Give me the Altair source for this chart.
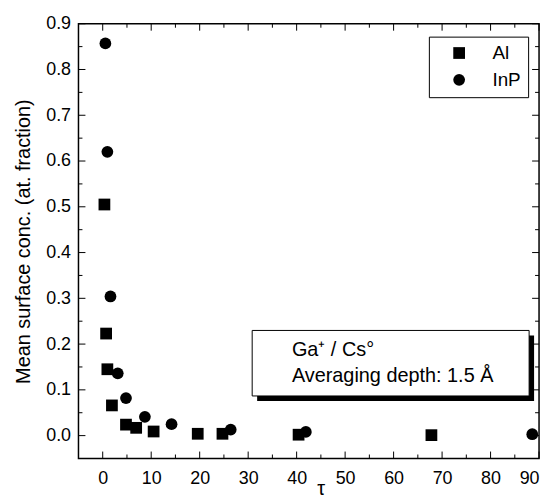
import altair as alt
import pandas as pd

# ---- data ----
al_tau = [0.35, 0.7, 0.96, 1.9, 4.8, 6.9, 10.5, 19.6, 24.7, 40.4, 67.8]
al_conc = [0.505, 0.223, 0.145, 0.066, 0.024, 0.017, 0.009, 0.004, 0.004, 0.002, 0.001]
inp_tau = [0.55, 0.96, 1.6, 3.1, 4.8, 8.7, 14.2, 26.4, 41.9, 88.6]
inp_conc = [0.857, 0.620, 0.304, 0.136, 0.082, 0.041, 0.025, 0.013, 0.008, 0.003]

x_major = [0, 10, 20, 30, 40, 50, 60, 70, 80, 90]
x_minor = [5, 15, 25, 35, 45, 55, 65, 75, 85]
y_major = [0.0, 0.1, 0.2, 0.3, 0.4, 0.5, 0.6, 0.7, 0.8, 0.9]
y_minor = [0.05, 0.15, 0.25, 0.35, 0.45, 0.55, 0.65, 0.75, 0.85]

annot_lines = ["Ga⁺ / Cs°", "Averaging depth: 1.5 Å"]

FONT = "Liberation Sans"
W, H = 464, 438
X_DOM = [-5, 90]
Y_DOM = [-0.05, 0.9]
X_TITLE = "τ"
Y_TITLE = "Mean surface conc. (at. fraction)"

df = pd.DataFrame(
    {"tau": al_tau + inp_tau,
     "conc": al_conc + inp_conc,
     "series": ["Al"] * len(al_tau) + ["InP"] * len(inp_tau)}
)

xs = alt.Scale(domain=X_DOM, nice=False, zero=False)
ys = alt.Scale(domain=Y_DOM, nice=False, zero=False)

x_axis = alt.Axis(values=x_major, tickSize=0, domain=False, grid=False,
                  labelPadding=11, titlePadding=-9, labelFontSize=18, titleFontSize=20,
                  labelFont=FONT, titleFont=FONT, titleFontWeight="normal",
                  labelColor="black", titleColor="black", titleX=244)
y_axis = alt.Axis(values=y_major, format=".1f", tickSize=0, domain=False, grid=False,
                  labelPadding=8, titlePadding=12, labelFontSize=18, titleFontSize=20,
                  labelFont=FONT, titleFont=FONT, titleFontWeight="normal",
                  labelColor="black", titleColor="black")

points = alt.Chart(df).mark_point(filled=True, opacity=1, color="black", size=140).encode(
    x=alt.X("tau:Q", scale=xs, title=X_TITLE, axis=x_axis),
    y=alt.Y("conc:Q", scale=ys, title=Y_TITLE, axis=y_axis),
    shape=alt.Shape("series:N",
                    scale=alt.Scale(domain=["Al", "InP"], range=["square", "circle"]),
                    legend=alt.Legend(title=None, orient="none", legendX=353, legendY=13,
                                      strokeColor="black", padding=7, fillColor="white",
                                      labelFontSize=19, labelFont=FONT, labelColor="black",
                                      labelExpr="datum.label + '\u2002'",
                                      symbolSize=140, symbolFillColor="black",
                                      symbolStrokeColor="black",
                                      rowPadding=7, labelOffset=24, symbolOffset=14)),
)


def tick_layer(vals, axis, pos0, pos1):
    d = pd.DataFrame({"v": vals})
    if axis == "x":
        return alt.Chart(d).mark_rule(color="black", strokeWidth=1).encode(
            x=alt.X("v:Q", scale=xs, title=X_TITLE, axis=x_axis),
            y=alt.value(pos0), y2=alt.value(pos1))
    return alt.Chart(d).mark_rule(color="black", strokeWidth=1).encode(
        y=alt.Y("v:Q", scale=ys, title=Y_TITLE, axis=y_axis),
        x=alt.value(pos0), x2=alt.value(pos1))


ticks = [
    tick_layer(x_major, "x", H, H - 7), tick_layer(x_minor, "x", H, H - 4),
    tick_layer(x_major, "x", 0, 7), tick_layer(x_minor, "x", 0, 4),
    tick_layer(y_major, "y", 0, 7), tick_layer(y_minor, "y", 0, 4),
    tick_layer(y_major, "y", W, W - 7), tick_layer(y_minor, "y", W, W - 4),
]

one = pd.DataFrame({"k": [0]})
shadow = alt.Chart(one).mark_rect(color="black").encode(
    x=alt.value(180), x2=alt.value(459), y=alt.value(314), y2=alt.value(380))
box = alt.Chart(one).mark_rect(fill="white", stroke="black", strokeWidth=1).encode(
    x=alt.value(175), x2=alt.value(454), y=alt.value(309), y2=alt.value(375))
line1 = alt.Chart(pd.DataFrame({"t": [annot_lines[0]]})).mark_text(
    align="left", baseline="alphabetic", fontSize=20, font=FONT, color="black").encode(
    text="t:N", x=alt.value(215), y=alt.value(335))
line2 = alt.Chart(pd.DataFrame({"t": [annot_lines[1]]})).mark_text(
    align="left", baseline="alphabetic", fontSize=20, font=FONT, color="black").encode(
    text="t:N", x=alt.value(215), y=alt.value(361))

chart = alt.layer(points, *ticks, shadow, box, line1, line2).properties(
    width=W, height=H, background="white"
).configure_view(stroke="black", strokeWidth=1.5)

chart.save("out.html", embed_options={"renderer": "svg", "actions": False})
